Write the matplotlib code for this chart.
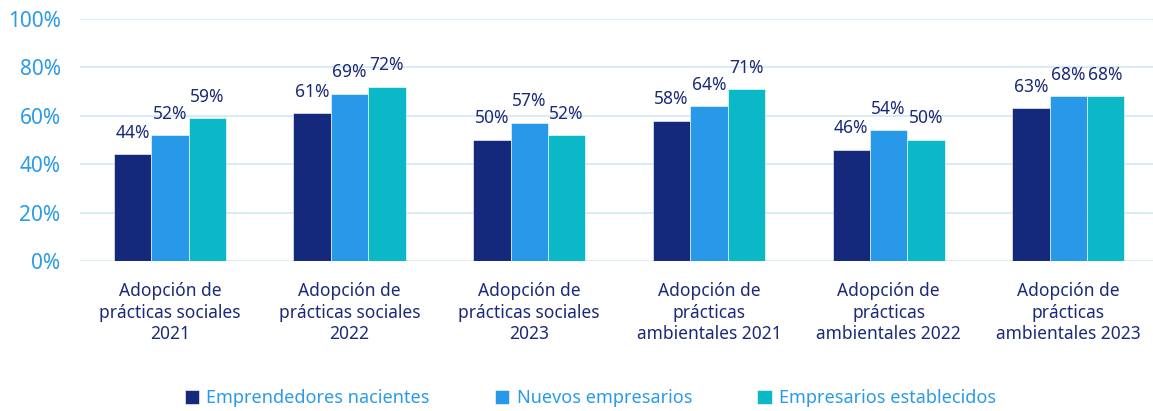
import numpy as np
import matplotlib.pyplot as plt
from matplotlib.ticker import PercentFormatter

plt.rcParams['font.family'] = ['Noto Sans', 'DejaVu Sans']

categories = [
    "Adopción de\nprácticas sociales\n2021",
    "Adopción de\nprácticas sociales\n2022",
    "Adopción de\nprácticas sociales\n2023",
    "Adopción de\nprácticas\nambientales 2021",
    "Adopción de\nprácticas\nambientales 2022",
    "Adopción de\nprácticas\nambientales 2023",
]
nacientes = [44, 61, 50, 58, 46, 63]
nuevos = [52, 69, 57, 64, 54, 68]
establecidos = [59, 72, 52, 71, 50, 68]

series = ["Emprendedores nacientes", "Nuevos empresarios", "Empresarios establecidos"]
colors = ["#15297c", "#2899e8", "#0bb8c8"]
navy = "#1b2a78"
light = "#2a9be8"

fig = plt.figure(figsize=(11.53, 4.11), dpi=100)
# axes run slightly past the right edge so the gridlines reach the border
ax = fig.add_axes([0.0694, 0.365, 0.935, 0.589])

x = np.arange(len(categories))
w = 0.208
for i, (vals, name, c) in enumerate(zip([nacientes, nuevos, establecidos], series, colors)):
    bars = ax.bar(x + (i - 1) * w, vals, w, color=c, label=name, zorder=3,
                  edgecolor="white", linewidth=0.4)
    ax.bar_label(bars, labels=[f"{v}%" for v in vals], padding=9,
                 color=navy, fontsize=12.5)

ax.set_xlim(-0.5, len(categories) - 0.5)
ax.set_ylim(0, 100)
ax.set_yticks(range(0, 101, 20))
ax.yaxis.set_major_formatter(PercentFormatter(decimals=0))
ax.grid(axis="y", color="#d3e8f7", linewidth=1.2, zorder=0)
for s in ax.spines.values():
    s.set_visible(False)
ax.tick_params(axis="y", length=0, labelsize=15, labelcolor=light, pad=14)
ax.tick_params(axis="x", length=0, labelsize=12.5, labelcolor=navy, pad=15)
ax.set_xticks(x)
ax.set_xticklabels(categories, linespacing=1.27)

fig.legend(loc="lower center", bbox_to_anchor=(0.512, -0.03), ncol=3, frameon=False,
           fontsize=13, labelcolor=light, handlelength=0.8, handleheight=0.8,
           handletextpad=0.4, columnspacing=3.6)

fig.savefig("out.png", dpi=100)
